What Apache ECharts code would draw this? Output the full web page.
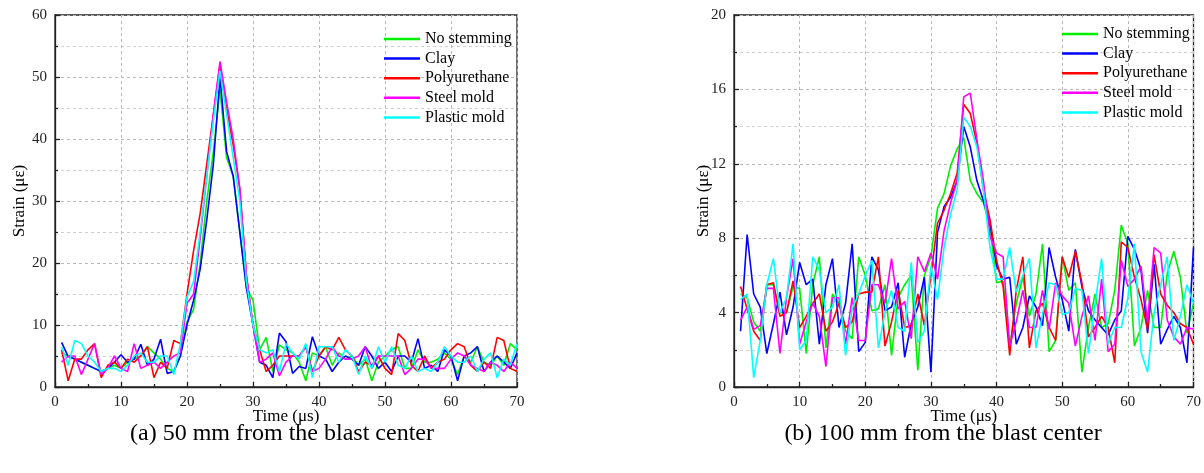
<!DOCTYPE html>
<html>
<head>
<meta charset="utf-8">
<script src="https://cdn.jsdelivr.net/npm/echarts@6/dist/echarts.min.js"></script>
<style>
html,body{margin:0;padding:0;background:#fff;}
#c{width:1204px;height:473px;}
</style>
</head>
<body>
<div id="c"></div>
<script>
// time axis: 1..70 µs
const times = Array.from({length:70},(_, i)=>i+1);
const seriesNames = ['No stemming','Clay','Polyurethane','Steel mold','Plastic mold'];

// (a) 50 mm from the blast center
const a_noStemming = [5.5,5,4.5,4,3.5,3,2.5,3,3.5,3, 4,4.5,5,6.5,5.5,4.5,3,2.5,5,10.5, 12.5,20,30,38,48,37,34,25,16,14, 6,8,2.5,6.8,6,5.5,4,1,5.5,5, 6.5,3.5,5.5,4.5,5,3.5,4.5,1,4,5, 6,6.5,3,3,6,4,4,4.5,5.5,4.5, 2,5,4,6.5,4,3.5,5,3.5,7,6];
const a_clay = [7.2,4.9,4.5,4,3.5,3,2.5,3,4,5.2, 4,4.5,6.9,3.5,4.5,7.7,2.2,2.5,5,10, 14,19,27,36,50,38,34,25,16,10, 4,3.5,1.5,8.7,7.3,2.2,3.3,3,8.1,5, 4.5,2.5,4,5,4.5,3.5,6.5,5,3,4, 2.5,5,5,4,7.8,3,3.5,2.5,6,5, 1,5,5.5,6.5,2.5,4,5,4,3,5.5];
const a_polyurethane = [6,1,4.5,4.5,6,7,1.5,3.5,4,3, 4.5,4,5,6.5,1.5,4,3,7.5,7,15, 22,28,36,44,52,45,39,32,18,10, 6,2.5,3.5,5,5,5,5,6.5,2.5,5, 6.5,6,8,6,5,2.5,4,3.5,5,3, 2,8.6,7.5,3.5,2.5,5,3,4,4.5,6, 7,6.5,3.5,2.5,4,3,8,7.5,3,2.5];
const a_steelMold = [4,5,5,2,4.5,7,2,3,5,3, 2.5,7,3,3.5,4,3,4,5,5.5,13.5, 15,24,34,44,52.5,46,40,32,18,10, 4,4.5,5.5,1.8,4,5,5,6.5,2.5,3, 4.5,6.5,5,4.5,4.5,5,6.5,3,5,5, 5,5,2,3,4.5,4.5,3,3,3,4.5, 5.5,5,3.5,3,2.5,4,3.5,2.5,4,3];
const a_plasticMold = [6.5,3.5,7.5,7,5,4,2.5,3,3,2.5, 3.5,5,5.5,4,4,5,5,2,7,14.5, 17,25,34,43,51,44,37,30,17,10, 6,5.5,6,2.5,7,5.5,4.5,7,1.5,6.5, 6.5,6.5,4,6,5,2,5,3,6.5,4, 6.5,3.5,3,5,2.5,3,2.5,4,6.5,5, 4,4,5,2.5,4.5,5.5,1.5,4.5,3.5,7];

// (b) 100 mm from the blast center
const b_noStemming = [5.0,4.8,3.5,3.0,5.5,5.5,4.0,4.0,5.4,5.3, 1.8,5.5,7.0,2.1,5.0,4.5,3.0,2.6,7.0,6.0, 4.1,4.2,5.5,1.7,4.8,5.5,6.0,0.9,6.0,7.0, 9.6,10.4,11.9,12.8,13.4,11.1,10.4,9.9,8.6,5.6, 5.7,2.2,4.5,5.9,3.8,5.0,7.7,1.9,2.5,7.0, 5.2,5.6,0.8,3.2,5.0,3.2,3.4,5.2,8.7,7.7, 2.2,3.2,5.2,3.2,3.2,6.1,7.3,5.9,2.9,4.5];
const b_clay = [3.0,8.2,5.0,4.3,1.8,3.4,5.1,2.8,4.3,6.7, 5.5,5.8,2.3,5.5,6.9,3.2,4.5,7.7,1.9,2.4, 7.0,6.3,4.1,4.3,5.6,1.6,3.4,4.3,5.9,0.8, 8.3,9.7,10.2,11.1,14.0,12.9,11.1,10.0,8.8,6.5, 5.8,5.9,2.3,3.2,4.9,4.3,3.3,7.5,5.9,4.7, 3.0,7.4,5.4,4.1,3.6,3.2,2.8,3.6,4.1,8.1, 7.4,6.3,2.9,6.6,2.3,3.1,3.8,3.2,1.3,7.5];
const b_polyurethane = [5.4,4.2,3.0,2.5,5.5,5.6,3.8,4.0,5.7,3.2, 3.8,4.5,5.0,3.0,3.5,4.5,3.2,3.5,5.0,5.1, 5.1,7.0,2.2,3.5,5.2,3.2,3.3,5.0,3.3,6.0, 8.8,9.5,10.4,11.5,15.2,14.7,13.1,10.6,9.0,6.8, 5.4,1.7,5.2,7.0,2.1,4.1,4.5,3.2,2.5,7.0, 5.9,7.3,5.6,2.7,3.2,3.8,3.2,1.3,7.8,7.5, 5.9,4.7,3.1,7.1,5.0,4.4,4.0,3.4,3.2,2.3];
const b_steelMold = [3.6,4.3,3.1,3.3,5.3,5.3,1.8,4.8,6.9,2.3, 3.5,4.5,3.8,1.1,4.8,4.8,2.3,4.8,2.5,2.5, 5.5,5.5,4.5,6.9,4.2,4.6,2.6,7.0,6.2,7.2, 5.8,8.4,9.9,11.1,15.6,15.8,13.3,11.1,8.1,7.2, 7.0,2.2,3.5,5.2,3.2,3.2,5.2,3.1,5.6,4.9, 4.5,2.2,3.8,4.9,2.5,5.8,1.9,2.3,6.8,5.4, 5.8,6.5,3.5,7.5,7.2,3.6,2.7,2.3,3.2,3.1];
const b_plasticMold = [4.7,5.0,0.5,2.5,5.5,6.9,4.0,4.8,7.7,2.0, 2.5,7.0,6.3,4.0,4.3,5.5,1.7,4.2,5.0,6.0, 6.8,2.1,4.0,5.2,3.2,3.0,6.7,2.4,3.0,6.5, 4.7,7.5,9.3,10.6,14.5,14.0,12.9,10.6,7.5,5.8, 5.8,7.5,5.1,6.0,6.9,2.1,3.9,5.6,5.5,3.9, 4.0,5.3,5.2,1.8,4.5,6.9,2.3,3.2,3.2,4.8, 7.7,1.9,0.8,4.0,5.5,7.0,2.5,3.8,5.5,4.5];

const xTicks = [0,10,20,30,40,50,60,70];
const aYTicks = [0,10,20,30,40,50,60];
const bYTicks = [0,4,8,12,16,20];
const captions = ['(a) 50 mm from the blast center','(b) 100 mm from the blast center'];

const colors = ['#00ee00','#0000ff','#ff0000','#ff00ff','#00ffff'];
const FONT = '"Liberation Serif", "Times New Roman", serif';

const aData = [a_noStemming,a_clay,a_polyurethane,a_steelMold,a_plasticMold];
const bData = [b_noStemming,b_clay,b_polyurethane,b_steelMold,b_plasticMold];

function zip(arr){ return times.map((t,i)=>[t,arr[i]]); }

function xAxis(gi){
  return {
    gridIndex: gi, type:'value', min:xTicks[0], max:xTicks[xTicks.length-1], interval:xTicks[1]-xTicks[0],
    name:'Time (\u03bcs)', nameLocation:'middle', nameGap:21, nameMoveOverlap:false,
    nameTextStyle:{fontFamily:FONT,fontSize:17,color:'#000'},
    axisLine:{show:true,onZero:false,lineStyle:{color:'#222',width:1.3}},
    axisTick:{show:true,inside:true,length:5,lineStyle:{color:'#222',width:1.3}},
    minorTick:{show:true,splitNumber:2,length:3,lineStyle:{color:'#222',width:1.3}},
    axisLabel:{fontFamily:FONT,fontSize:15,color:'#222',margin:8},
    splitLine:{show:true,lineStyle:{color:'#b8b8b8',type:[3,3],width:1}},
    minorSplitLine:{show:false}
  };
}
function yAxis(gi, ticks){
  return {
    gridIndex: gi, type:'value', min:ticks[0], max:ticks[ticks.length-1], interval:ticks[1]-ticks[0],
    name:'Strain (\u03bc\u03b5)', nameLocation:'middle', nameGap:gi===0?27:22, nameRotate:90, nameMoveOverlap:false,
    nameTextStyle:{fontFamily:FONT,fontSize:17,color:'#000'},
    axisLine:{show:true,lineStyle:{color:'#222',width:1.3}},
    axisTick:{show:true,inside:true,length:5,lineStyle:{color:'#222',width:1.3}},
    minorTick:{show:true,splitNumber:2,length:3,lineStyle:{color:'#222',width:1.3}},
    axisLabel:{fontFamily:FONT,fontSize:15,color:'#222',margin:8},
    splitLine:{show:true,lineStyle:{color:'#b8b8b8',type:[3,3],width:1}},
    minorSplitLine:{show:true,lineStyle:{color:'#d0d0d0',type:[3,3],width:1}}
  };
}

const series = [];
[aData,bData].forEach((set,gi)=>{
  set.forEach((arr,k)=>{
    series.push({
      name: seriesNames[k], type:'line', xAxisIndex:gi, yAxisIndex:gi,
      data: zip(arr), showSymbol:false, symbol:'none',
      lineStyle:{color:colors[k],width:1.6}, itemStyle:{color:colors[k]},
      animation:false, z: 2+k
    });
  });
});

function legend(left,top){
  return {
    show:true, orient:'vertical', left:left, top:top,
    icon:'rect', itemWidth:36, itemHeight:2.5, itemGap:3.6,
    data:seriesNames,
    textStyle:{fontFamily:FONT,fontSize:16,color:'#000',lineHeight:16,padding:[0,0,0,0]},
    selectedMode:false
  };
}

const chart = echarts.init(document.getElementById('c'), null, {renderer:'canvas'});
chart.setOption({
  backgroundColor:'#fff',
  animation:false,
  grid:[
    {left:55,top:15,width:462,height:372,show:true,borderColor:'#222',borderWidth:1.3,backgroundColor:'transparent'},
    {left:734,top:15,width:461,height:372,show:true,borderColor:'#222',borderWidth:1.3,backgroundColor:'transparent'}
  ],
  xAxis:[xAxis(0),xAxis(1)],
  yAxis:[yAxis(0,aYTicks),yAxis(1,bYTicks)],
  legend:[legend(379,26),legend(1057,21)],
  series:series,
  graphic:[
    {type:'text',x:282,y:434,style:{text:captions[0],textAlign:'center',textVerticalAlign:'middle',fontFamily:FONT,fontSize:24,fill:'#000'}},
    {type:'text',x:943,y:434,style:{text:captions[1],textAlign:'center',textVerticalAlign:'middle',fontFamily:FONT,fontSize:24,fill:'#000'}}
  ]
});
</script>
</body>
</html>
